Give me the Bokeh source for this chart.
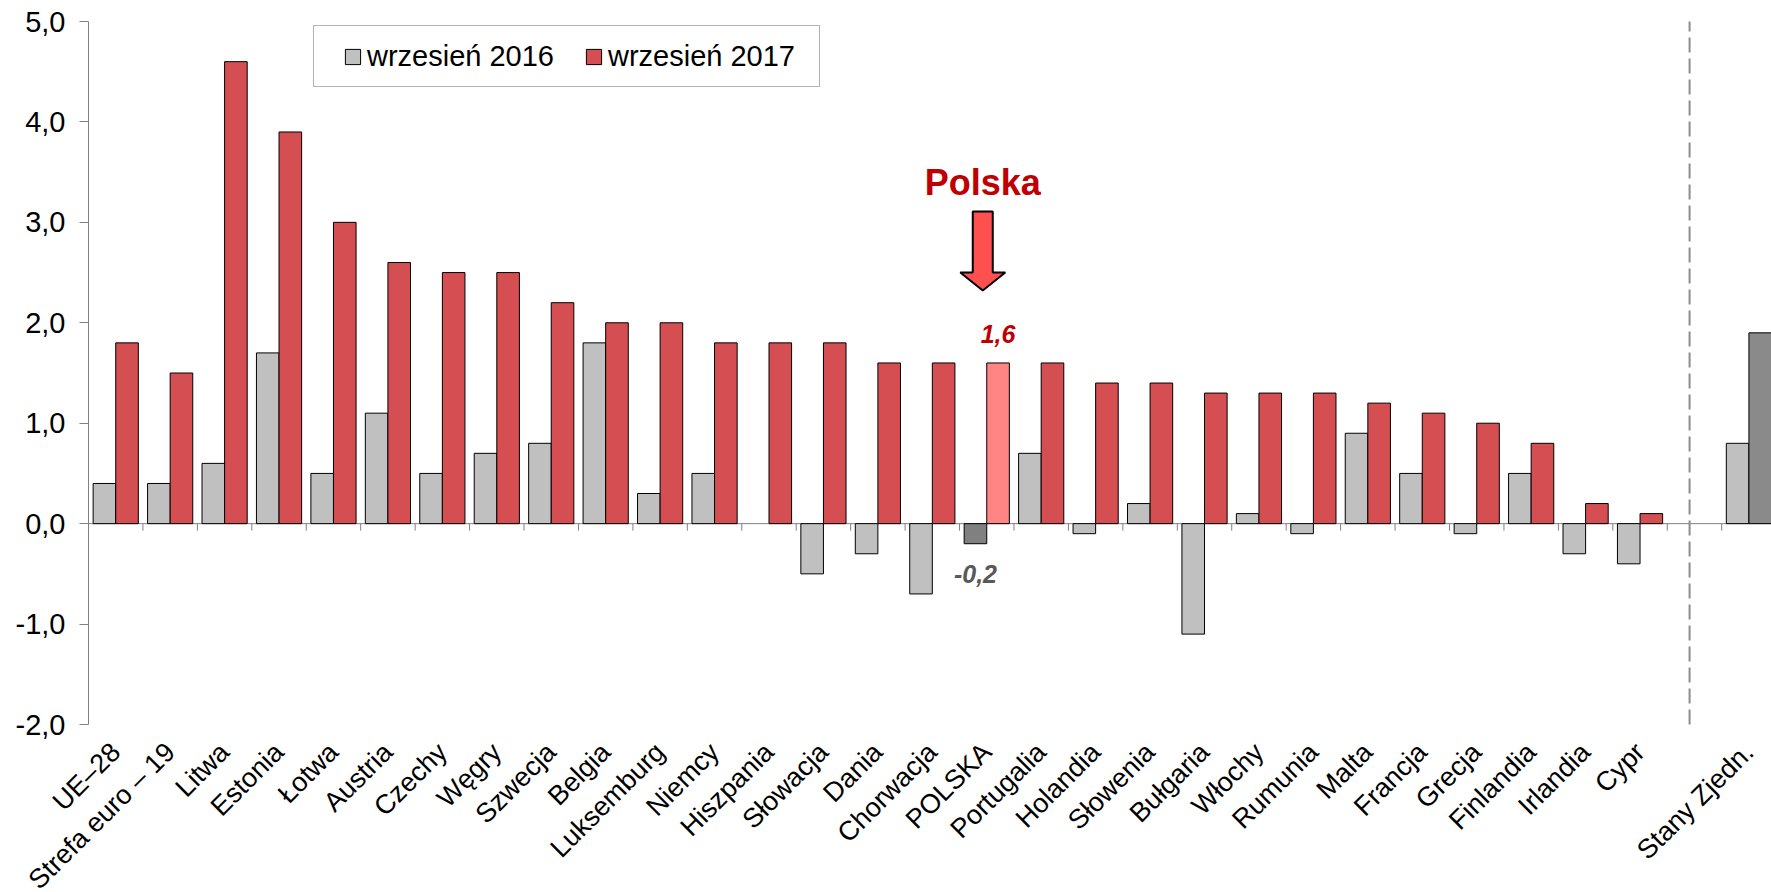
import math
from bokeh.plotting import figure
from bokeh.models import (ColumnDataSource, Range1d, FixedTicker, Legend,
                          LegendItem, Label, LabelSet, BoxAnnotation)
from bokeh.core.properties import value
from bokeh.embed import file_html
from bokeh.resources import INLINE

# ---------------- data ----------------
categories = ["UE–28", "Strefa euro – 19", "Litwa", "Estonia", "Łotwa", "Austria",
              "Czechy", "Węgry", "Szwecja", "Belgia", "Luksemburg", "Niemcy",
              "Hiszpania", "Słowacja", "Dania", "Chorwacja", "POLSKA", "Portugalia",
              "Holandia", "Słowenia", "Bułgaria", "Włochy", "Rumunia", "Malta",
              "Francja", "Grecja", "Finlandia", "Irlandia", "Cypr", "", "Stany Zjedn."]
values_2016 = [0.4, 0.4, 0.6, 1.7, 0.5, 1.1, 0.5, 0.7, 0.8, 1.8, 0.3, 0.5,
               0.0, -0.5, -0.3, -0.7, -0.2, 0.7, -0.1, 0.2, -1.1, 0.1, -0.1, 0.9,
               0.5, -0.1, 0.5, -0.3, -0.4, None, 0.8]
values_2017 = [1.8, 1.5, 4.6, 3.9, 3.0, 2.6, 2.5, 2.5, 2.2, 2.0, 2.0, 1.8,
               1.8, 1.8, 1.6, 1.6, 1.6, 1.6, 1.4, 1.4, 1.3, 1.3, 1.3, 1.2,
               1.1, 1.0, 0.8, 0.2, 0.1, None, 1.9]
series_names = ["wrzesień 2016", "wrzesień 2017"]
y_ticks = [-2, -1, 0, 1, 2, 3, 4, 5]
y_tick_labels = ["-2,0", "-1,0", "0,0", "1,0", "2,0", "3,0", "4,0", "5,0"]
highlight = "POLSKA"
highlight_title = "Polska"
other_region = "Stany Zjedn."

# ---------------- styles ----------------
FONT = "Liberation Sans"
C16, C17 = "#C0C0C0", "#D54E52"
C16_HI, C17_HI = "#808080", "#FF8484"
C17_OTHER = "#8A8A8A"
AXIS_GREY = "#808080"
W, H = 1771, 892
LEFT, TOP, LABEL_SPACE = 88, 21, 168
CAT_PX = 54.44                        # px per category
Y_PX = (H - TOP - LABEL_SPACE) / 7.0  # px per y unit
Y_MIN, Y_MAX = y_ticks[0], y_ticks[-1]
BAR_W = 0.415

n = len(categories)
hi = categories.index(highlight)
oth = categories.index(other_region)
gap = categories.index("")

col16 = [C16] * n
col17 = [C17] * n
col16[hi], col17[hi] = C16_HI, C17_HI
col17[oth] = C17_OTHER

centers = [i + 0.5 for i in range(n)]
def nz(v):
    return float("nan") if (v is None or v == 0) else v

src = ColumnDataSource(dict(
    x16=[c - BAR_W / 2 for c in centers],
    x17=[c + BAR_W / 2 for c in centers],
    v16=[nz(v) for v in values_2016],
    v17=[nz(v) for v in values_2017],
    c16=col16, c17=col17,
))

# the frame covers the whole canvas so that the axis labels and the rotated
# category labels, which overhang the plotted area, are not clipped
p = figure(width=W, height=H, output_backend="svg", toolbar_location=None,
           x_range=Range1d(-LEFT / CAT_PX, (W - LEFT) / CAT_PX),
           y_range=Range1d(Y_MIN - LABEL_SPACE / Y_PX, Y_MAX + TOP / Y_PX),
           x_axis_location=None,
           min_border_left=0, min_border_top=0, min_border_right=0,
           min_border_bottom=0)
p.outline_line_color = None
p.xgrid.visible = False
p.ygrid.visible = False
p.background_fill_color = "white"
p.border_fill_color = "white"

# y axis, drawn at x = 0
ya = p.yaxis[0]
ya.fixed_location = 0
ya.bounds = (Y_MIN, Y_MAX)
ya.ticker = FixedTicker(ticks=y_ticks, minor_ticks=[])
ya.major_label_overrides = {t: l for t, l in zip(y_ticks, y_tick_labels)}
ya.axis_line_color = AXIS_GREY
ya.major_tick_line_color = AXIS_GREY
ya.major_tick_out = 9
ya.major_tick_in = 0
ya.minor_tick_line_color = None
ya.major_label_standoff = 14
ya.major_label_text_font = FONT
ya.major_label_text_font_size = "29px"
ya.major_label_text_color = "black"

# category labels (below the y = -2 level, rotated 45°)
lab_idx = [i for i in range(n) if categories[i]]
lab_src = ColumnDataSource(dict(x=[centers[i] for i in lab_idx],
                                y=[Y_MIN] * len(lab_idx),
                                text=[categories[i] for i in lab_idx]))
p.add_layout(LabelSet(x="x", y="y", text="text", source=lab_src,
                      angle=math.pi / 4, x_offset=0, y_offset=-23,
                      text_align="right", text_baseline="middle",
                      text_font=value(FONT), text_font_size="27px",
                      text_color="black"))

# zero line + category boundary ticks
p.segment(x0=[0], y0=[0], x1=[n], y1=[0], line_color=AXIS_GREY, line_width=1)
bounds = list(range(1, n))
p.segment(x0=bounds, y0=[0] * len(bounds), x1=bounds, y1=[-7 / Y_PX] * len(bounds),
          line_color=AXIS_GREY, line_width=1)

# separator before the non-EU country
p.segment(x0=[gap + 0.41], y0=[Y_MIN], x1=[gap + 0.41], y1=[Y_MAX],
          line_color="#8C8C8C", line_width=2, line_dash="15 6")

# bars
r16 = p.vbar(x="x16", top="v16", bottom=0, width=BAR_W, source=src,
             fill_color="c16", line_color="black", line_width=1)
r17 = p.vbar(x="x17", top="v17", bottom=0, width=BAR_W, source=src,
             fill_color="c17", line_color="black", line_width=1)

# legend (location = bottom-left of the legend, from the frame's bottom-left)
legend = Legend(items=[LegendItem(label=series_names[0], renderers=[r16], index=0),
                       LegendItem(label=series_names[1], renderers=[r17], index=0)],
                orientation="horizontal", location=(343, H - 72.5),
                padding=0, spacing=30, label_standoff=5,
                glyph_width=19, glyph_height=19,
                label_text_font=FONT, label_text_font_size="29px",
                label_text_color="black",
                border_line_color=None, background_fill_alpha=0)
p.add_layout(legend)
p.add_layout(BoxAnnotation(left=313, right=819, top=25, bottom=86,
                           left_units="canvas", right_units="canvas",
                           top_units="canvas", bottom_units="canvas",
                           fill_color=None, fill_alpha=0,
                           line_color="black", line_width=1))

# Polska highlight: title, arrow, value labels
zero_px = TOP + Y_MAX * Y_PX
ax = centers[hi] - 4 / CAT_PX
p.add_layout(Label(x=ax, y=(zero_px - 182) / Y_PX, text=highlight_title,
                   text_font=FONT, text_font_size="36px", text_font_style="bold",
                   text_color="#C00000", text_align="center",
                   text_baseline="alphabetic"))
sh, hh = 10 / CAT_PX, 22.5 / CAT_PX
y_top, y_base, y_tip = [(zero_px - v) / Y_PX for v in (211, 272, 290)]
p.patch(x=[ax - sh, ax + sh, ax + sh, ax + hh, ax, ax - hh, ax - sh],
        y=[y_top, y_top, y_base, y_base, y_tip, y_base, y_base],
        fill_color="#FF5050", line_color="black", line_width=2)

def fmt(v):
    return f"{v:.1f}".replace(".", ",")

p.add_layout(Label(x=centers[hi] + BAR_W / 2, y=values_2017[hi] + 29 / Y_PX,
                   text=fmt(values_2017[hi]), text_font=FONT, text_font_size="25px",
                   text_font_style="bold italic", text_color="#C00000",
                   text_align="center", text_baseline="alphabetic"))
p.add_layout(Label(x=centers[hi] - BAR_W / 2, y=values_2016[hi] - 30 / Y_PX,
                   text=fmt(values_2016[hi]), text_font=FONT, text_font_size="25px",
                   text_font_style="bold italic", text_color="#595959",
                   text_align="center", text_baseline="alphabetic"))

open("out.html", "w").write(file_html(p, INLINE))
